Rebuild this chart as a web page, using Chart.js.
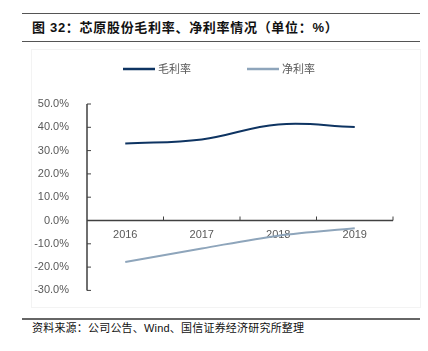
<!DOCTYPE html>
<html>
<head>
<meta charset="utf-8">
<script src="https://cdn.jsdelivr.net/npm/chart.js@4"></script>
<style>
  body { margin: 0; width: 428px; height: 351px; background: #fff; position: relative; overflow: hidden;
         font-family: "Liberation Sans", "Noto Sans CJK SC", sans-serif; }
  .rule { position: absolute; left: 22px; width: 398px; background: #555; }
  #title { position: absolute; left: 32px; top: 17px; font-size: 13px; font-weight: bold; color: #111;
           letter-spacing: 0.7px;
           font-family: "Liberation Sans", "Noto Sans CJK SC", sans-serif; white-space: nowrap; }
  #source { position: absolute; left: 32px; top: 319px; font-size: 11px; color: #111; letter-spacing: 0.2px;
            font-family: "Liberation Sans", "Noto Sans CJK SC", sans-serif; white-space: nowrap; }
  #wrap { position: absolute; left: 32px; top: 50px; width: 388px; height: 257px; }
  #frame { position: absolute; left: 31px; top: 49px; width: 388px; height: 257px; border: 1px solid #f3f3f3; }
</style>
</head>
<body>
<div class="rule" style="top:13px;height:1px"></div>
<div id="title">图 32：芯原股份毛利率、净利率情况（单位：%）</div>
<div class="rule" style="top:41px;height:1px"></div>
<div id="frame"></div>
<div id="wrap"><canvas id="c"></canvas></div>
<div class="rule" style="top:318px;height:2px;background:#666"></div>
<div id="source">资料来源：公司公告、Wind、国信证券经济研究所整理</div>
<script>
// 数据
const years = ['2016', '2017', '2018', '2019'];
const grossMargin = [33.0, 34.8, 41.2, 40.1];
const netMargin = [-17.8, -12.0, -6.5, -3.3];
const seriesNames = ['毛利率', '净利率'];
const seriesColors = ['#0e3462', '#8ea5bb'];

// 坐标轴和图例自己画
const axesPlugin = {
  id: 'axesPlugin',
  afterDraw(chart) {
    const ctx = chart.ctx;
    const x = chart.scales.x, y = chart.scales.y;
    const area = chart.chartArea;
    const y0 = y.getPixelForValue(0);
    ctx.save();
    ctx.strokeStyle = '#404040';
    ctx.lineWidth = 1.5;
    ctx.beginPath();
    ctx.moveTo(area.left, area.top);
    ctx.lineTo(area.left, area.bottom);
    ctx.moveTo(area.left, y0);
    ctx.lineTo(area.right, y0);
    ctx.stroke();
    ctx.lineWidth = 1;
    ctx.beginPath();
    y.ticks.forEach(t => {
      const py = y.getPixelForValue(t.value);
      ctx.moveTo(area.left, py);
      ctx.lineTo(area.left + 4, py);
    });
    const step = x.getPixelForValue(1) - x.getPixelForValue(0);
    for (let i = 0; i < years.length; i++) {
      const px = x.getPixelForValue(i) + step / 2;
      ctx.moveTo(px, y0);
      ctx.lineTo(px, y0 - 4);
    }
    ctx.stroke();

    // 图例
    const lx = [91, 215];
    ctx.font = '11px "Noto Sans CJK SC", sans-serif';
    ctx.textBaseline = 'middle';
    ctx.fillStyle = '#595959';
    seriesNames.forEach((n, i) => {
      ctx.strokeStyle = seriesColors[i];
      ctx.lineWidth = 2.5;
      ctx.beginPath();
      ctx.moveTo(lx[i], 19);
      ctx.lineTo(lx[i] + 32, 19);
      ctx.stroke();
      ctx.fillText(n, lx[i] + 35, 19);
    });
    ctx.restore();
  }
};

new Chart(document.getElementById('c'), {
  type: 'line',
  data: {
    labels: years,
    datasets: [
      { label: seriesNames[0], data: grossMargin, borderColor: seriesColors[0], borderWidth: 2, pointRadius: 0, tension: 0.4, fill: false },
      { label: seriesNames[1], data: netMargin, borderColor: seriesColors[1], borderWidth: 2, pointRadius: 0, cubicInterpolationMode: 'monotone', fill: false }
    ]
  },
  options: {
    responsive: true,
    maintainAspectRatio: false,
    animation: false,
    layout: { padding: { top: 54, right: 27, bottom: 12, left: 0 } },
    plugins: { legend: { display: false }, tooltip: { enabled: false } },
    scales: {
      x: {
        position: { y: 0 },
        offset: true,
        grid: { display: false },
        border: { display: false },
        ticks: { color: '#595959', font: { size: 11, family: '"Liberation Sans", Arial' }, padding: 0 }
      },
      y: {
        min: -30, max: 50,
        grid: { display: false },
        border: { display: false },
        afterFit(s) { s.width = 55; },
        ticks: {
          stepSize: 10,
          color: '#595959',
          padding: 10,
          font: { size: 11, family: '"Liberation Sans", Arial' },
          callback: v => v.toFixed(1) + '%'
        }
      }
    }
  },
  plugins: [axesPlugin]
});
</script>
</body>
</html>
